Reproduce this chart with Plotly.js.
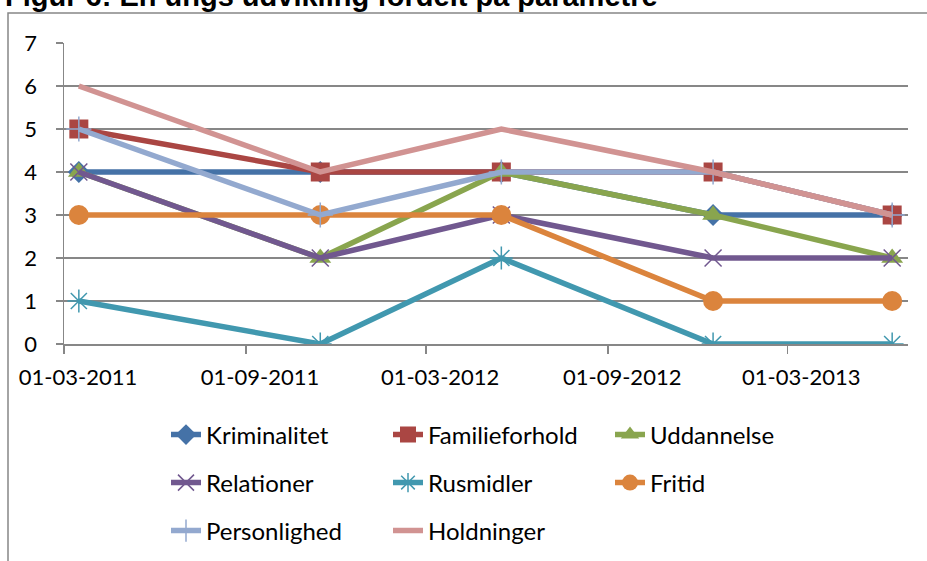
<!DOCTYPE html>
<html>
<head>
<meta charset="utf-8">
<script src="https://cdn.plot.ly/plotly-3.0.1.min.js"></script>
<style>
  html, body { margin: 0; padding: 0; background: #fff; }
  #plot { width: 927px; height: 561px; }
</style>
</head>
<body>
<div id="plot"></div>
<script>
const dates = ['2011-03-16', '2011-11-15', '2012-05-16', '2012-12-16', '2013-06-15'];

const kriminalitet = [4, 4, 4, 3, 3];
const familieforhold = [5, 4, 4, 4, 3];
const uddannelse = [4, 2, 4, 3, 2];
const relationer = [4, 2, 3, 2, 2];
const rusmidler = [1, 0, 2, 0, 0];
const fritid = [3, 3, 3, 1, 1];
const personlighed = [5, 3, 4, 4, 3];
const holdninger = [6, 4, 5, 4, 3];

const tickDates = ['2011-03-01', '2011-09-01', '2012-03-01', '2012-09-01', '2013-03-01'];
const tickLabels = ['01-03-2011', '01-09-2011', '01-03-2012', '01-09-2012', '01-03-2013'];

const FONT = 'Lato, "Open Sans", sans-serif';
const GRID = '#878787';

function series(name, y, color, symbol, size, legend, open) {
    const t = {
        x: dates, y: y, name: name, type: 'scatter',
        mode: symbol ? 'lines+markers' : 'lines',
        line: {color: color, width: 5.5},
        legend: legend,
        hoverinfo: 'x+y+name'
    };
    if (symbol) {
        t.marker = open
            ? {symbol: symbol, size: size, color: color, line: {color: color, width: 1.5}}
            : {symbol: symbol, size: size, color: color, line: {width: 0}};
    }
    return t;
}

const data = [
    series('Kriminalitet', kriminalitet, '#4572A7', 'diamond', 17, 'legend'),
    series('Familieforhold', familieforhold, '#AA4643', 'square', 19, 'legend2'),
    series('Uddannelse', uddannelse, '#89A54E', 'triangle-up', 19, 'legend3'),
    series('Relationer', relationer, '#71588F', 'x-thin-open', 17, 'legend4', true),
    series('Rusmidler', rusmidler, '#4198AF', 'asterisk-open', 19, 'legend5', true),
    series('Fritid', fritid, '#DB843D', 'circle', 20, 'legend6'),
    series('Personlighed', personlighed, '#93A9CF', 'cross-thin-open', 18, 'legend7', true),
    series('Holdninger', holdninger, '#D19392', null, 0, 'legend8')
];

// px -> paper helpers (plot area 64..908 x, 43..344 y)
const px = v => (v - 64) / 844;
const py = v => (344 - v) / 301;

// one legend box per entry, placed by pixel (text left edge, row centre)
function legendAt(textX, rowY) {
    return {
        orientation: 'v', x: px(textX - 40), xanchor: 'left',
        y: py(rowY), yanchor: 'middle',
        font: {family: FONT, size: 24, color: '#000'},
        bgcolor: 'rgba(0,0,0,0)', borderwidth: 0
    };
}

const layout = {
    width: 927, height: 561,
    margin: {l: 64, r: 19, t: 43, b: 217, autoexpand: false},
    paper_bgcolor: '#fff', plot_bgcolor: '#fff',
    font: {family: FONT, size: 22, color: '#000'},
    showlegend: true,
    legend: legendAt(206, 435),
    legend2: legendAt(428, 435),
    legend3: legendAt(650, 435),
    legend4: legendAt(206, 483),
    legend5: legendAt(428, 483),
    legend6: legendAt(650, 483),
    legend7: legendAt(206, 531),
    legend8: legendAt(428, 531),
    xaxis: {
        type: 'date',
        range: ['2011-03-01', '2013-07-01'],
        tickvals: tickDates, ticktext: tickLabels,
        showgrid: false, zeroline: false,
        showline: true, linecolor: GRID, linewidth: 1.5,
        ticks: 'outside', ticklen: 8, tickwidth: 1.5, tickcolor: GRID,
        ticklabelstandoff: 5, ticklabelshift: 14,
        tickfont: {family: FONT, size: 22, color: '#000'}
    },
    yaxis: {
        range: [0, 7], dtick: 1,
        showgrid: true, gridcolor: GRID, gridwidth: 1.5,
        zeroline: false,
        showline: true, linecolor: GRID, linewidth: 1.5,
        ticks: 'outside', ticklen: 7, tickwidth: 1.5, tickcolor: GRID,
        ticklabelstandoff: 14,
        tickfont: {family: FONT, size: 22, color: '#000'}
    },
    shapes: [{
        type: 'rect', xref: 'paper', yref: 'paper',
        x0: px(8), x1: px(990), y0: py(640), y1: py(13),
        line: {color: GRID, width: 1.5}, fillcolor: 'rgba(0,0,0,0)', layer: 'below'
    }],
    annotations: [{
        text: '<b>Figur 6: En ungs udvikling fordelt på parametre</b>',
        xref: 'paper', yref: 'paper',
        x: px(4), xanchor: 'left',
        y: py(13), yanchor: 'bottom',
        showarrow: false, borderpad: 0,
        font: {family: '"Liberation Sans", Arial, sans-serif', size: 29, color: '#000'}
    }]
};

Plotly.newPlot('plot', data, layout, {displayModeBar: false, staticPlot: true});
</script>
</body>
</html>
